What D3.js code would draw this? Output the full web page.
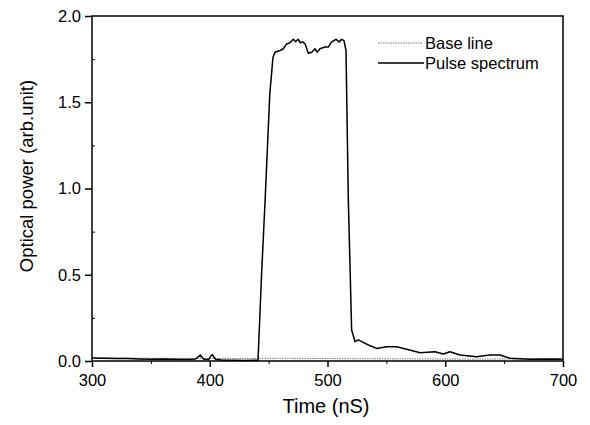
<!DOCTYPE html>
<html>
<head>
<script src="https://d3js.org/d3.v7.min.js"></script>
<style>
  body { margin: 0; background: #fff; }
  text { font-family: "Liberation Sans", Arial, sans-serif; fill: #000; }
</style>
</head>
<body>
<svg id="chart" width="590" height="425"></svg>
<script>
// Pulse spectrum
var pulseTime = [300, 310, 320, 330, 340, 350, 360, 370, 380, 388, 392, 395, 399, 402, 405, 410, 420, 430, 441,
  444, 447, 451, 453.7, 455.4, 459.7, 462.5, 465.3, 468, 471, 473, 475, 477, 479, 481, 483.7, 486.6, 489.4, 491.3,
  493.6, 497.9, 500.7, 503.5, 507.2, 510, 512, 514, 515.7, 517.7, 520.5, 523.4, 526.2, 529, 534.7, 541.8, 550.3,
  558.8, 567.3, 578.6, 591.3, 598.4, 604, 612.5, 626.7, 638, 646.5, 655, 672, 690, 700];
var pulseValue = [0.018, 0.016, 0.014, 0.015, 0.012, 0.01, 0.012, 0.01, 0.009, 0.012, 0.035, 0.01, 0.008, 0.038, 0.01, 0.006, 0.005, 0.003, 0.004,
  0.5, 0.93, 1.55, 1.76, 1.79, 1.80, 1.81, 1.838, 1.845, 1.865, 1.851, 1.865, 1.845, 1.85, 1.838, 1.784, 1.79, 1.81, 1.79,
  1.81, 1.82, 1.82, 1.85, 1.865, 1.85, 1.865, 1.857, 1.80, 0.93, 0.18, 0.112, 0.122, 0.112, 0.093, 0.073, 0.083,
  0.083, 0.068, 0.048, 0.054, 0.041, 0.054, 0.035, 0.025, 0.035, 0.035, 0.016, 0.01, 0.012, 0.01];

// Base line (dotted)
var baseTime = [300, 340, 380, 420, 460, 500, 540, 580, 620, 660, 700];
var baseValue = [0.018, 0.016, 0.015, 0.014, 0.016, 0.014, 0.013, 0.012, 0.011, 0.012, 0.012];

var xTicks = [300, 400, 500, 600, 700];
var xMinor = [350, 450, 550, 650];
var yTicks = [0.0, 0.5, 1.0, 1.5, 2.0];
var yMinor = [0.25, 0.75, 1.25, 1.75];

var margin = {top: 16, right: 27, bottom: 64, left: 92},
    width = 590 - margin.left - margin.right,
    height = 425 - margin.top - margin.bottom;

var svg = d3.select("#chart")
  .append("g")
  .attr("transform", "translate(" + margin.left + "," + margin.top + ")");

var x = d3.scaleLinear().domain([300, 700]).range([0, width]);
var y = d3.scaleLinear().domain([0, 2]).range([height, 0]);

// axes
svg.append("g")
  .attr("transform", "translate(0," + height + ")")
  .call(d3.axisBottom(x).tickValues(xTicks).tickSize(6).tickSizeOuter(0).tickPadding(7).tickFormat(d3.format("d")))
  .call(g => g.select(".domain").remove())
  .call(g => g.selectAll("line").attr("stroke-width", 1.5))
  .call(g => g.selectAll("text").attr("font-size", 16.5));
svg.append("g")
  .attr("transform", "translate(0," + height + ")")
  .call(d3.axisBottom(x).tickValues(xMinor).tickSize(3).tickFormat(""))
  .call(g => g.select(".domain").remove());

svg.append("g")
  .call(d3.axisLeft(y).tickValues(yTicks).tickSize(7).tickPadding(4).tickFormat(d3.format(".1f")))
  .call(g => g.select(".domain").remove())
  .call(g => g.selectAll("line").attr("stroke-width", 1.5))
  .call(g => g.selectAll("text").attr("font-size", 16.5));
svg.append("g")
  .call(d3.axisRight(y).tickValues(yMinor).tickSize(3).tickFormat(""))
  .call(g => g.select(".domain").remove());

// frame
svg.append("rect")
  .attr("width", width).attr("height", height)
  .attr("fill", "none").attr("stroke", "#000").attr("stroke-width", 1.5);

var line = d3.line()
  .x(function(d) { return x(d[0]); })
  .y(function(d) { return y(d[1]); });

svg.append("path")
  .datum(d3.zip(baseTime, baseValue))
  .attr("fill", "none")
  .attr("stroke", "#777")
  .attr("stroke-width", 1)
  .attr("stroke-dasharray", "1.5,1")
  .attr("d", line);

svg.append("path")
  .datum(d3.zip(pulseTime, pulseValue))
  .attr("fill", "none")
  .attr("stroke", "#000")
  .attr("stroke-width", 1.5)
  .attr("stroke-linejoin", "round")
  .attr("d", line);

// legend
var legend = svg.append("g").attr("transform", "translate(" + (378 - margin.left) + "," + (43 - margin.top) + ")");
legend.append("line").attr("x1", 0).attr("x2", 44).attr("y1", 0).attr("y2", 0)
  .attr("stroke", "#777").attr("stroke-width", 1).attr("stroke-dasharray", "1.5,1");
legend.append("text").attr("x", 47).attr("y", 0).attr("dy", "0.35em").attr("font-size", 16.5).text("Base line");
legend.append("line").attr("x1", 0).attr("x2", 46).attr("y1", 20).attr("y2", 20)
  .attr("stroke", "#000").attr("stroke-width", 1.5);
legend.append("text").attr("x", 47).attr("y", 20).attr("dy", "0.35em").attr("font-size", 16.5).text("Pulse spectrum");

// axis titles
svg.append("text")
  .attr("x", 326 - margin.left).attr("y", height + 52)
  .attr("text-anchor", "middle").attr("font-size", 20)
  .text("Time (nS)");
svg.append("text")
  .attr("transform", "rotate(-90)")
  .attr("x", -(176 - margin.top)).attr("y", 33 - margin.left)
  .attr("text-anchor", "middle").attr("font-size", 18.5)
  .text("Optical power (arb.unit)");
</script>
</body>
</html>
